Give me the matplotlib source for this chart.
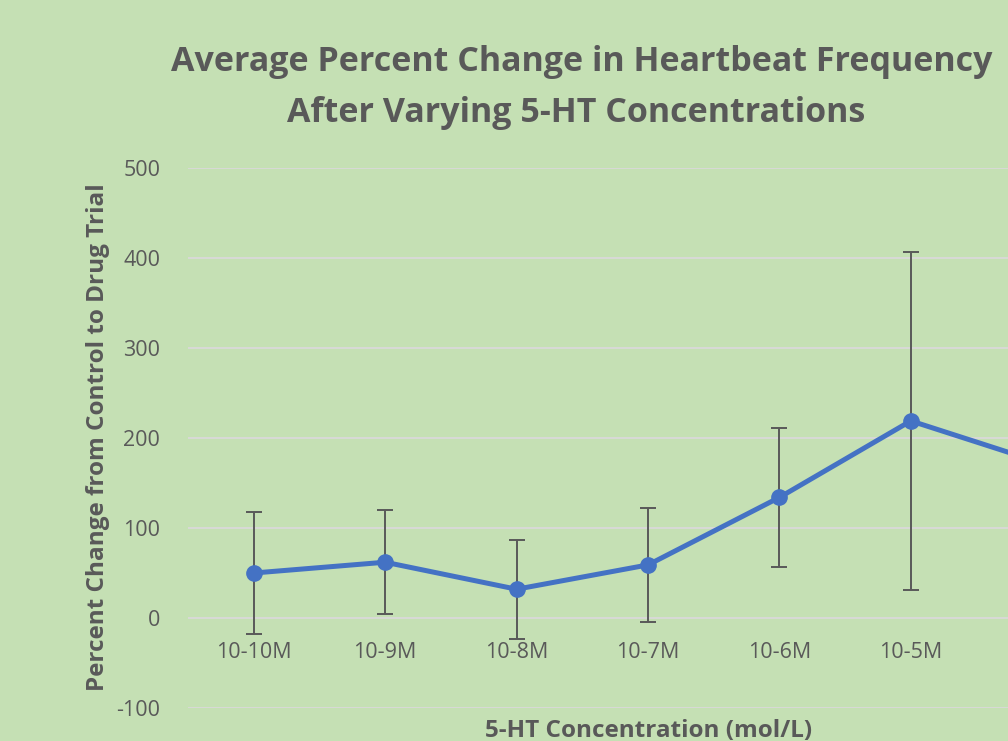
import numpy as np
import matplotlib.pyplot as plt

plt.rcParams["axes.unicode_minus"] = False

labels = ["10-10M", "10-9M", "10-8M", "10-7M", "10-6M", "10-5M", "10-4M"]
means = [50, 62, 32, 59, 134, 219, 172]
errs = [68, 58, 55, 63, 77, 188, 60]

bg = "#C5E0B4"
grey = "#595959"

fig = plt.figure(figsize=(10.08, 7.41), dpi=100, facecolor=bg)
# plot area runs past the right edge, as in the cropped original
ax = fig.add_axes([0.1865, 0.0445, 0.9127, 0.7288], facecolor=bg)

x = np.arange(len(labels))
ax.errorbar(x, means, yerr=errs, color="#4472C4", lw=3.6, marker="o", ms=11,
            ecolor=grey, elinewidth=1.4, capsize=6, capthick=1.4, zorder=3)

ax.set_xlim(-0.5, len(labels) - 0.5)
ax.set_ylim(-100, 500)
ax.set_yticks(range(-100, 501, 100))
ax.set_xticks(x)
ax.set_xticklabels(labels)
ax.yaxis.grid(True, color="#D9D9D9", lw=1.3)
ax.set_axisbelow(True)

for s in ["top", "right", "left"]:
    ax.spines[s].set_visible(False)
ax.spines["bottom"].set_position(("data", 0))
ax.spines["bottom"].set_color("none")
ax.tick_params(length=0, labelsize=15.5, labelcolor=grey, pad=17)
ax.tick_params(axis="y", pad=20)
for t in ax.get_xticklabels() + ax.get_yticklabels():
    t.set_family("Open Sans")

fig.text(0.097, 0.41, "Percent Change from Control to Drug Trial", rotation=90,
         ha="center", va="center", fontsize=17.5, fontweight="bold", color=grey,
         family="Open Sans")
fig.text(0.643, 0.013, "5-HT Concentration (mol/L)", ha="center", va="center",
         fontsize=17.5, fontweight="bold", color=grey, family="Open Sans")
fig.text(0.577, 1 - 71 / 741, "Average Percent Change in Heartbeat Frequency",
         ha="center", va="baseline", fontsize=24.5, fontweight="bold", color=grey,
         family="Open Sans")
fig.text(0.572, 1 - 122 / 741, "After Varying 5-HT Concentrations",
         ha="center", va="baseline", fontsize=24.5, fontweight="bold", color=grey,
         family="Open Sans")

plt.savefig("out.png", facecolor=bg)
